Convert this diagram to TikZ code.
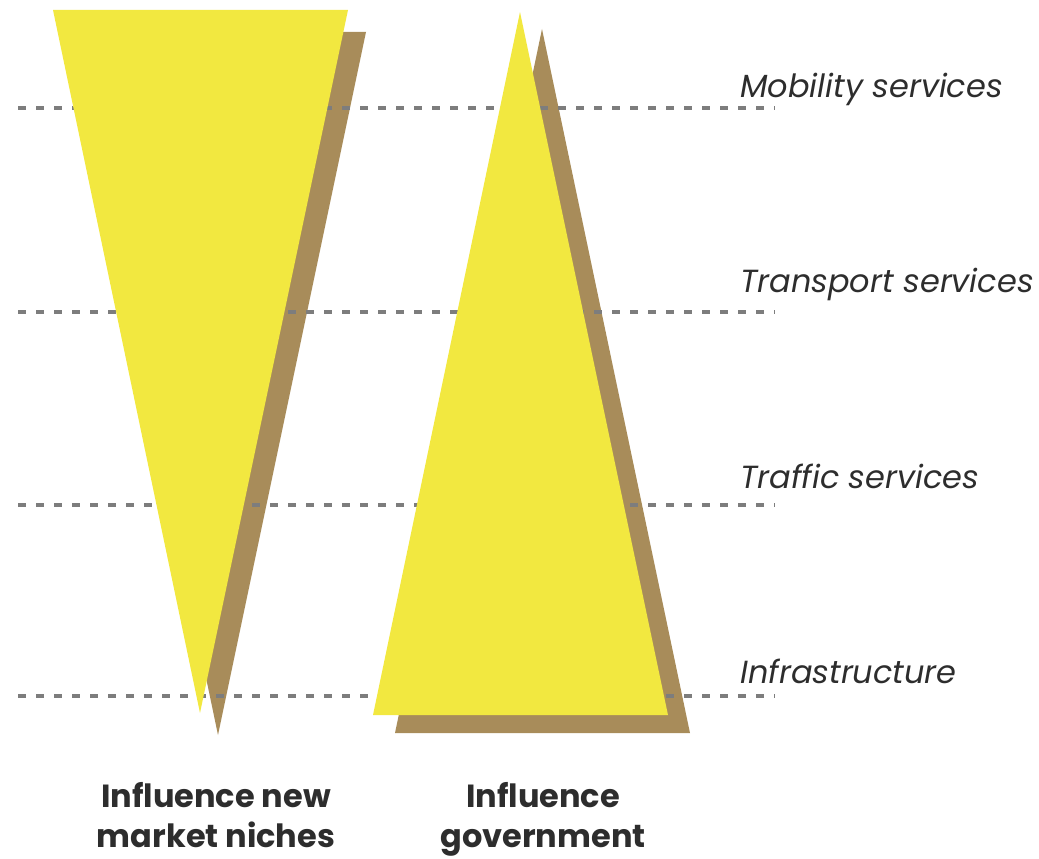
\documentclass[tikz,border=0pt]{standalone}
\usepackage{fontspec}
\setmainfont{Poppins}
\usepackage{tikz}
\usetikzlibrary{positioning}
\definecolor{niche}{RGB}{242,232,64}
\definecolor{umber}{RGB}{168,140,90}
\definecolor{dots}{RGB}{125,125,125}
\definecolor{ink}{RGB}{45,45,45}

\begin{document}
\begin{tikzpicture}[x=1pt,y=-1pt,
    level/.style={dots,line width=4,dash pattern=on 8pt off 10pt},
    layer/.style={font=\itshape\fontsize{32}{36}\selectfont,text=ink,anchor=base west,inner sep=0},
    caption/.style={font=\bfseries\fontsize{32}{40}\selectfont,text=ink,align=center,anchor=north,inner sep=0}]
  \useasboundingbox (0,0) rectangle (1039,859);
  % shadows
  \fill[umber] (71,32) -- (366,32) -- (218,735) -- cycle;
  \fill[umber] (542,29) -- (690,733) -- (395,733) -- cycle;
  % levels
  \coordinate (m0) at (18,108); \coordinate (m1) at (775,108);
  \coordinate (t0) at (18,312); \coordinate (t1) at (775,312);
  \coordinate (f0) at (18,505); \coordinate (f1) at (775,505);
  \coordinate (i0) at (18,696); \coordinate (i1) at (775,696);
  \draw[level] (m0) -- (m1);
  \draw[level] (t0) -- (t1);
  \draw[level] (f0) -- (f1);
  \draw[level] (i0) -- (i1);
  % triangles
  \fill[niche] (53,10) -- (348,10) -- (200,713) -- cycle;
  \fill[niche] (520,12) -- (668,715) -- (373,715) -- cycle;
  \node[layer] (mob) at (740,97) {Mobility services};
  \node[layer] (tra) at (740,292) {Transport services};
  \node[layer] (trf) at (740,488) {Traffic services};
  \node[layer] (inf) at (740,683) {Infrastructure};
  \node[caption] (nic) at (216,782) {Influence new\\market niches};
  \node[caption] (gov) at (543,782) {Influence\\government};
\end{tikzpicture}
\end{document}
